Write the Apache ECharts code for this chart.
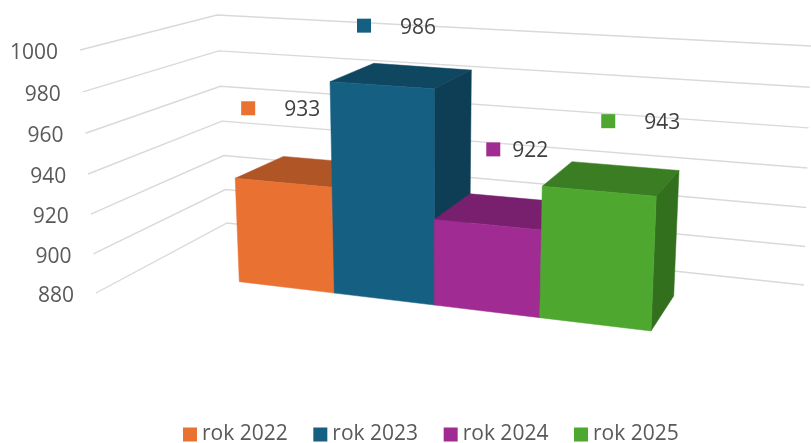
<!DOCTYPE html>
<html>
<head>
<meta charset="utf-8">
<style>html,body{margin:0;padding:0;background:#fff}#c{width:811px;height:443px}</style>
<script src="https://cdn.jsdelivr.net/npm/echarts@6/dist/echarts.min.js"></script>
</head>
<body>
<div id="c"></div>
<script>
const categories = ['rok 2022', 'rok 2023', 'rok 2024', 'rok 2025'];
const values = [933, 986, 922, 943];
const tickValues = [880, 900, 920, 940, 960, 980, 1000];
const axisMin = 880, axisMax = 1000;
const frontColors = ['#E97132', '#156082', '#A02B93', '#4EA72E'];
const topColors = ['#AF5526', '#0F4761', '#78206E', '#3B7D23'];
const sideColors = ['#8C441E', '#0D3E55', '#681C5F', '#32701E'];

// Perspective planes of the drawing (bottom-left, bottom-right, top-left, top-right)
const frontPlane = {bl:[239.3,281.7], br:[651,331], tl:[230,47.5], tr:[661,74.5], r:0.9, rv:1};
const backPlane  = {bl:[285.6,256], br:[673.7,296], tl:[280.6,30.5], tr:[683.8,57], r:0.9, rv:1};
const leftWall   = {bl:[96,293], br:[227,223], tl:[80,50], tr:[217,15], r:1, rv:0.96};
const backWall   = {bl:[227,223], br:[804,285], tl:[217,15], tr:[811,46], r:1, rv:0.96};
// Value-label placement relative to the bar's front top-left corner
const markOffset = [[6,-70],[27,-56],[52,-70],[59,-65]];
const textOffset = [[49,-68],[70,-54],[78,-68],[102,-63]];

function project(p, u, v) {
  const s = u * p.r / (u * p.r + (1 - u));
  const w = v * p.rv / (v * p.rv + (1 - v));
  const bx = p.bl[0] + s * (p.br[0] - p.bl[0]), by = p.bl[1] + s * (p.br[1] - p.bl[1]);
  const tx = p.tl[0] + s * (p.tr[0] - p.tl[0]), ty = p.tl[1] + s * (p.tr[1] - p.tl[1]);
  return [bx + w * (tx - bx), by + w * (ty - by)];
}
function levelOf(api, value) {
  const y0 = api.coord([0, axisMin])[1], y1 = api.coord([0, axisMax])[1];
  return (y0 - api.coord([0, value])[1]) / (y0 - y1);
}
function poly(points, color) {
  return {type: 'polygon', shape: {points}, style: {fill: color, stroke: color, lineWidth: 0.5}};
}
function renderBar(i) {
  return function (params, api) {
    const idx = api.value(0), n = categories.length;
    const u0 = idx / n, u1 = (idx + 1) / n, v = levelOf(api, api.value(1));
    const fbl = project(frontPlane, u0, 0), fbr = project(frontPlane, u1, 0);
    const ftl = project(frontPlane, u0, v), ftr = project(frontPlane, u1, v);
    const bbr = project(backPlane, u1, 0);
    const btl = project(backPlane, u0, v), btr = project(backPlane, u1, v);
    const children = [
      poly([ftl, btl, btr, ftr], topColors[i]),
      poly([fbr, ftr, btr, bbr], sideColors[i]),
      poly([fbl, fbr, ftr, ftl], frontColors[i]),
      {type: 'rect', z2: 50, shape: {x: ftl[0] + markOffset[i][0], y: ftl[1] + markOffset[i][1] - 7, width: 14, height: 14}, style: {fill: frontColors[i]}},
      {type: 'text', z2: 50, style: {x: ftl[0] + textOffset[i][0], y: ftl[1] + textOffset[i][1], text: String(api.value(1)), fill: '#404040', font: '21px "Open Sans"', align: 'left', verticalAlign: 'middle'}}
    ];
    return {type: 'group', children};
  };
}
function renderGrid(params, api) {
  const tick = api.value(1), v = levelOf(api, tick);
  const a = project(leftWall, 0, v), b = project(leftWall, 1, v), c = project(backWall, 1, v);
  return {type: 'group', children: [
    {type: 'polyline', shape: {points: [a, b, c]}, style: {fill: 'none', stroke: '#D9D9D9', lineWidth: 1.4}},
    {type: 'text', style: {x: a[0] - 22, y: a[1] + 3, text: String(tick), fill: '#595959', font: '21px "Open Sans"', align: 'right', verticalAlign: 'middle'}}
  ]};
}

const series = [{
  type: 'custom', name: 'grid', coordinateSystem: 'cartesian2d', silent: true, z: 1,
  renderItem: renderGrid, data: tickValues.map(t => [0, t])
}].concat(categories.map((name, i) => ({
  type: 'custom', name, coordinateSystem: 'cartesian2d', z: 2 + i,
  itemStyle: {color: frontColors[i]},
  renderItem: renderBar(i), data: [[i, values[i]]]
})));

const chart = echarts.init(document.getElementById('c'), null, {renderer: 'canvas'});
chart.setOption({
  animation: false,
  backgroundColor: '#fff',
  textStyle: {fontFamily: 'Open Sans'},
  grid: {left: 100, right: 100, top: 50, bottom: 150},
  xAxis: {type: 'category', data: categories, show: false},
  yAxis: {type: 'value', min: axisMin, max: axisMax, interval: 20, show: false},
  legend: {
    data: categories, left: 183, top: 424, padding: 0, icon: 'rect',
    itemWidth: 14, itemHeight: 14, itemGap: 25.6,
    textStyle: {fontSize: 21, color: '#595959', fontFamily: 'Open Sans', padding: [1, 0, 0, 0]}
  },
  series
});
</script>
</body>
</html>
